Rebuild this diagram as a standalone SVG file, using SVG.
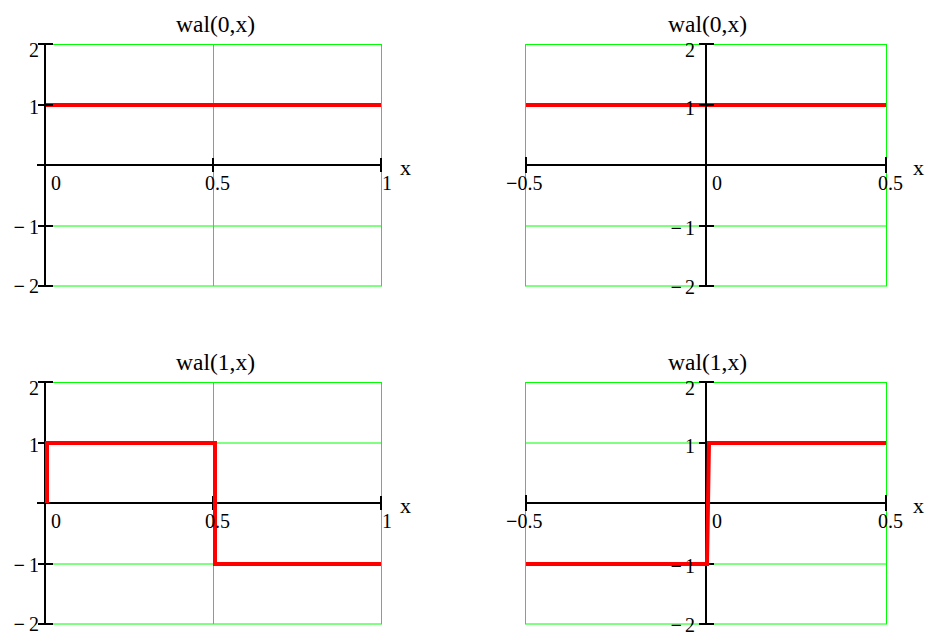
<svg xmlns="http://www.w3.org/2000/svg" width="928" height="632" viewBox="0 0 928 632">
<style>
text{font-family:"Liberation Serif","Times New Roman",serif;fill:#000}
.t{font-size:23.5px;text-anchor:middle}
.n{font-size:20px}
.ny{font-size:20px;text-anchor:end}
.xl{font-size:22px}
.m{font-weight:bold}
.g{stroke:#00ff00;stroke-width:1;fill:none}
.a{stroke:#000;stroke-width:2;fill:none}
.r{stroke:#ff0000;stroke-width:4;fill:none;stroke-linejoin:miter}
</style>
<rect width="928" height="632" fill="#fff"/>

<g id="plot-wal0-a">
<text class="t" x="215.5" y="32">wal(0,x)</text>
<rect class="g" x="45" y="44.5" width="336.5" height="241.5"/>
<path class="g" d="M45 105H381M45 226H381M213.5 44V286"/>
<path class="r" d="M45 105H381"/>
<path class="a" d="M45 44V286M37 165H381M38 44H53M38 105H53M38 226H53M38 286H53M213 158V172M381 158V172"/>
<text class="ny" x="39" y="57">2</text>
<text class="ny" x="39" y="114">1</text>
<text class="ny" x="39" y="234"><tspan class="m">−</tspan><tspan dx="4">1</tspan></text>
<text class="ny" x="39" y="293"><tspan class="m">−</tspan><tspan dx="4">2</tspan></text>
<text class="n" x="51" y="190">0</text>
<text class="n" x="205" y="190">0.5</text>
<text class="n" x="382" y="190">1</text>
<text class="xl" x="400" y="175">x</text>
</g>

<g id="plot-wal0-b">
<text class="t" x="707.5" y="32">wal(0,x)</text>
<rect class="g" x="525.5" y="44.5" width="361" height="241.5"/>
<path class="g" d="M526 105H886M526 226H886"/>
<path class="r" d="M526 105H886"/>
<path class="a" d="M706 44V286M526 165H886M699 44H714M699 105H714M699 165H714M699 226H714M699 286H714M526 157V173M886 157V173"/>
<text class="ny" x="695" y="57">2</text>
<text class="ny" x="695" y="115">1</text>
<text class="ny" x="695" y="235"><tspan class="m">−</tspan><tspan dx="3">1</tspan></text>
<text class="ny" x="695" y="294"><tspan class="m">−</tspan><tspan dx="3">2</tspan></text>
<text class="n" x="506" y="190"><tspan class="m">−</tspan>0.5</text>
<text class="n" x="712" y="190">0</text>
<text class="n" x="878" y="190">0.5</text>
<text class="xl" x="913" y="175">x</text>
</g>

<g id="plot-wal1-a">
<text class="t" x="215.5" y="370">wal(1,x)</text>
<rect class="g" x="45" y="382.5" width="336.5" height="241.5"/>
<path class="g" d="M45 443H381M45 564H381M213.5 382V624"/>
<path class="a" d="M45 382V624M37 503H381M38 382H53M38 443H53M38 564H53M38 624H53M213 496V510M381 496V510"/>
<path class="r" d="M47 503V443H215V564H381"/>
<text class="ny" x="39" y="395">2</text>
<text class="ny" x="39" y="452">1</text>
<text class="ny" x="39" y="572"><tspan class="m">−</tspan><tspan dx="4">1</tspan></text>
<text class="ny" x="39" y="631"><tspan class="m">−</tspan><tspan dx="4">2</tspan></text>
<text class="n" x="51" y="528">0</text>
<text class="n" x="205" y="528">0.5</text>
<text class="n" x="382" y="528">1</text>
<text class="xl" x="400" y="513">x</text>
</g>

<g id="plot-wal1-b">
<text class="t" x="707.5" y="370">wal(1,x)</text>
<rect class="g" x="525.5" y="382.5" width="361" height="241.5"/>
<path class="g" d="M526 443H886M526 564H886"/>
<path class="a" d="M706 382V624M526 503H886M699 382H714M699 443H714M699 503H714M699 564H714M699 624H714M526 495V511M886 495V511"/>
<path class="r" d="M526 564H707L709 443H886"/>
<text class="ny" x="695" y="395">2</text>
<text class="ny" x="695" y="453">1</text>
<text class="ny" x="695" y="573"><tspan class="m">−</tspan><tspan dx="3">1</tspan></text>
<text class="ny" x="695" y="632"><tspan class="m">−</tspan><tspan dx="3">2</tspan></text>
<text class="n" x="506" y="528"><tspan class="m">−</tspan>0.5</text>
<text class="n" x="712" y="528">0</text>
<text class="n" x="878" y="528">0.5</text>
<text class="xl" x="913" y="513">x</text>
</g>
</svg>
